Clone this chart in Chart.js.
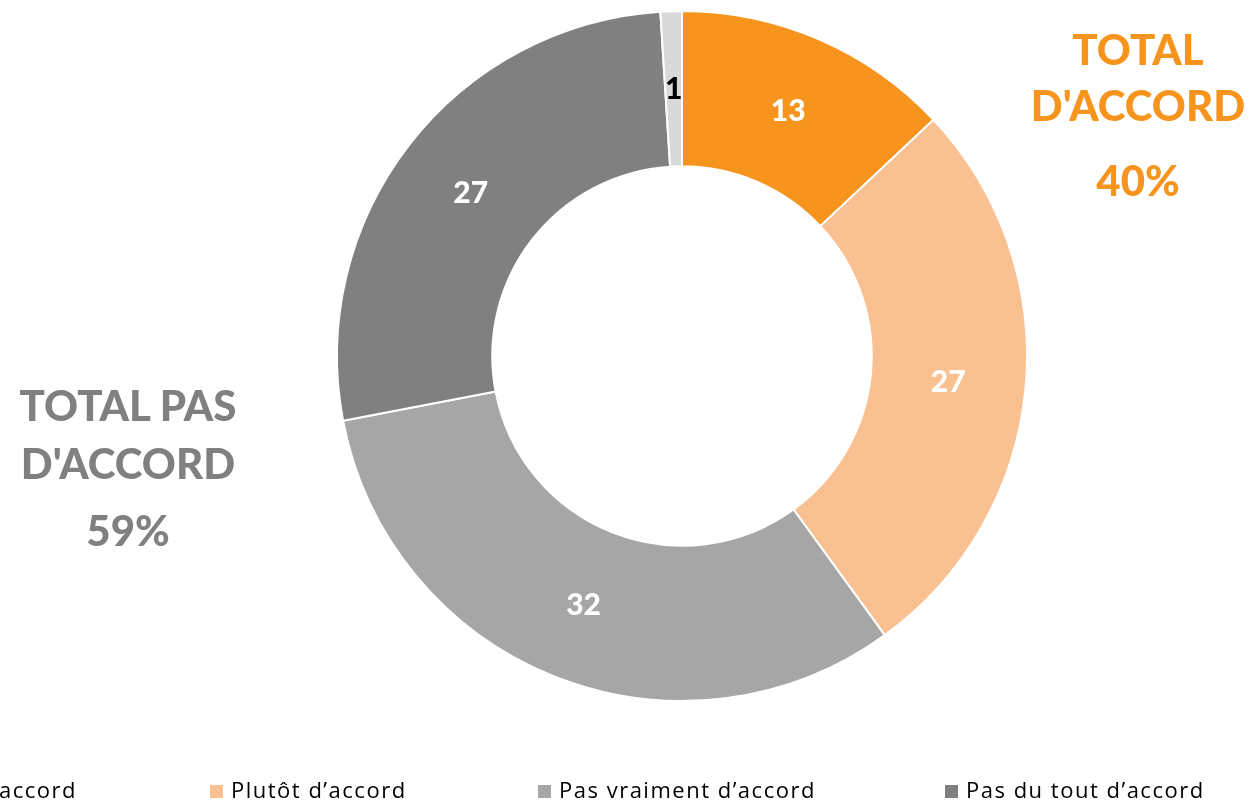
<!DOCTYPE html>
<html>
<head>
<meta charset="utf-8">
<script src="https://cdn.jsdelivr.net/npm/chart.js@4"></script>
<style>
  html, body { margin: 0; padding: 0; background: #fff; overflow: hidden; }
  #wrap { position: relative; width: 1248px; height: 802px; font-family: Lato, "Open Sans", sans-serif; }
  #chart { position: absolute; left: 0; top: 0; }
  .total { position: absolute; font-weight: 900; font-size: 42px; text-align: center; line-height: 1; }
  .total div { position: absolute; left: 0; right: 0; white-space: nowrap; }
  .leg { position: absolute; top: 774px; font-family: "Open Sans", sans-serif; font-size: 22px; letter-spacing: 1.5px; color: #000; white-space: nowrap; }
  .leg span.box { display: inline-block; width: 13px; height: 13px; margin-right: 8px; vertical-align: 0px; }
</style>
</head>
<body>
<div id="wrap">
  <canvas id="chart" width="1248" height="802"></canvas>
  <div class="total" id="tAgree" style="left:1028px; width:220px; top:0; height:200px; color:#F7941D">
    <div style="top:28px">TOTAL</div>
    <div style="top:84px">D'ACCORD</div>
    <div style="top:159px">40%</div>
  </div>
  <div class="total" id="tDisagree" style="left:0; width:256px; top:0; height:560px; color:#808080">
    <div style="top:384px">TOTAL PAS</div>
    <div style="top:442px">D'ACCORD</div>
    <div style="top:509px">59%</div>
  </div>
  <div id="legend"></div>
</div>
<script>
const labels = ["Tout à fait d’accord", "Plutôt d’accord", "Pas vraiment d’accord", "Pas du tout d’accord", "Ne se prononce pas"];
const values = [13, 27, 32, 27, 1];
const colors = ["#F7941D", "#F9C191", "#A6A6A6", "#808080", "#D9D9D9"];
const labelColors = ["#fff", "#fff", "#fff", "#fff", "#000"];

// legend: Excel-style row, wider than the page so the ends are cut off
const legendLeft = [null, 210, 538, 945];
const legendEl = document.getElementById("legend");
labels.slice(0, 4).forEach((lab, i) => {
  const item = document.createElement("div");
  item.className = "leg";
  item.innerHTML = `<span class="box" style="background:${colors[i]}"></span>${lab}`;
  if (legendLeft[i] === null) {
    item.style.right = (1248 - 77) + "px";
  } else {
    item.style.left = legendLeft[i] + "px";
  }
  legendEl.appendChild(item);
});

const valueLabels = {
  id: "valueLabels",
  afterDatasetsDraw(chart) {
    const { ctx } = chart;
    const meta = chart.getDatasetMeta(0);
    ctx.save();
    ctx.font = "900 30px Lato, 'Open Sans', sans-serif";
    ctx.textAlign = "center";
    ctx.textBaseline = "middle";
    meta.data.forEach((arc, i) => {
      const p = arc.tooltipPosition();
      ctx.fillStyle = labelColors[i];
      ctx.fillText(values[i], p.x, p.y + 1);
    });
    ctx.restore();
  }
};

new Chart(document.getElementById("chart"), {
  type: "doughnut",
  data: {
    labels: labels,
    datasets: [{
      data: values,
      backgroundColor: colors,
      borderColor: "#fff",
      borderWidth: 2
    }]
  },
  options: {
    responsive: false,
    animation: false,
    cutout: "55%",
    layout: { padding: { top: 10, bottom: 100, left: 336, right: 220 } },
    plugins: {
      legend: { display: false },
      tooltip: { enabled: false }
    }
  },
  plugins: [valueLabels]
});
</script>
</body>
</html>
